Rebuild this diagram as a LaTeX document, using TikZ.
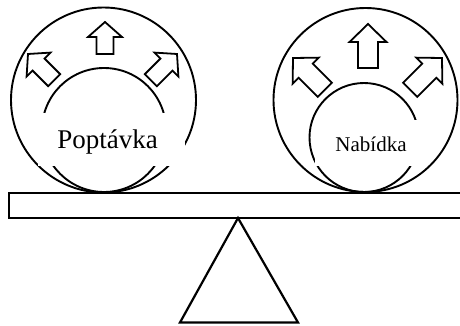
\documentclass[tikz,border=0pt]{standalone}
\usepackage{fontspec}
\setmainfont{Liberation Serif}
\begin{document}
\begin{tikzpicture}[x=1pt,y=1pt,
  ring/.style={draw=black,line width=1.9pt},
  arrowline/.style={draw=black,line width=1.8pt,line join=miter,fill=white},
  cover/.style={fill=white,draw=none,inner sep=0pt},
  beambox/.style={draw=black,line width=2pt,fill=white},
  stand/.style={draw=black,line width=2.2pt,line join=miter},
  lbl/.style={inner sep=0pt,anchor=base}]
\useasboundingbox (0,0) rectangle (460,325);
\newcommand{\blkarrow}[7]{%
  \begin{scope}[shift={(#1,#2)},rotate=#3]
    \draw[arrowline] (0,0) -- (-#5,#6) -- (-#5,#7) -- (-#4,#7) -- (-#4,-#7) -- (-#5,-#7) -- (-#5,-#6) -- cycle;
  \end{scope}}
% left circles
\node[ring,circle,minimum size=185pt,inner sep=0pt] (lo) at (103.5,225) {};
\node[ring,circle,minimum size=124pt,inner sep=0pt] (li) at (104,195) {};
% right circles
\node[ring,circle,minimum size=184pt,inner sep=0pt] (ro) at (365.5,225) {};
\node[ring,circle,minimum size=109pt,inner sep=0pt] (ri) at (364,187.5) {};
% arrows left
\blkarrow{105}{303}{90}{32}{15}{17}{8.5}
\blkarrow{28}{271}{135}{37}{15}{17}{8.5}
\blkarrow{177}{271}{45}{37}{15}{17}{8.5}
% arrows right
\blkarrow{368}{301}{90}{44}{18}{18.5}{10}
\blkarrow{293}{267}{135}{45}{18}{18.5}{10}
\blkarrow{442}{267}{45}{45}{18}{18.5}{10}
% label covers
\fill[white] (38,159) rectangle (185,212);
\fill[white] (315,159) rectangle (423,205);
\node[lbl] (poptavka) at (107.5,177) {\fontsize{27}{30}\selectfont Poptávka};
\node[lbl] (nabidka) at (371,174) {\fontsize{21}{24}\selectfont Nabídka};
% beam and fulcrum
\draw[beambox] (9,107.5) rectangle (463,132.5);
\coordinate (apex) at (238,107);
\coordinate (bl) at (180,2.5);
\coordinate (br) at (298,2.5);
\draw[stand] (apex) -- (bl) -- (br) -- cycle;
\end{tikzpicture}
\end{document}
